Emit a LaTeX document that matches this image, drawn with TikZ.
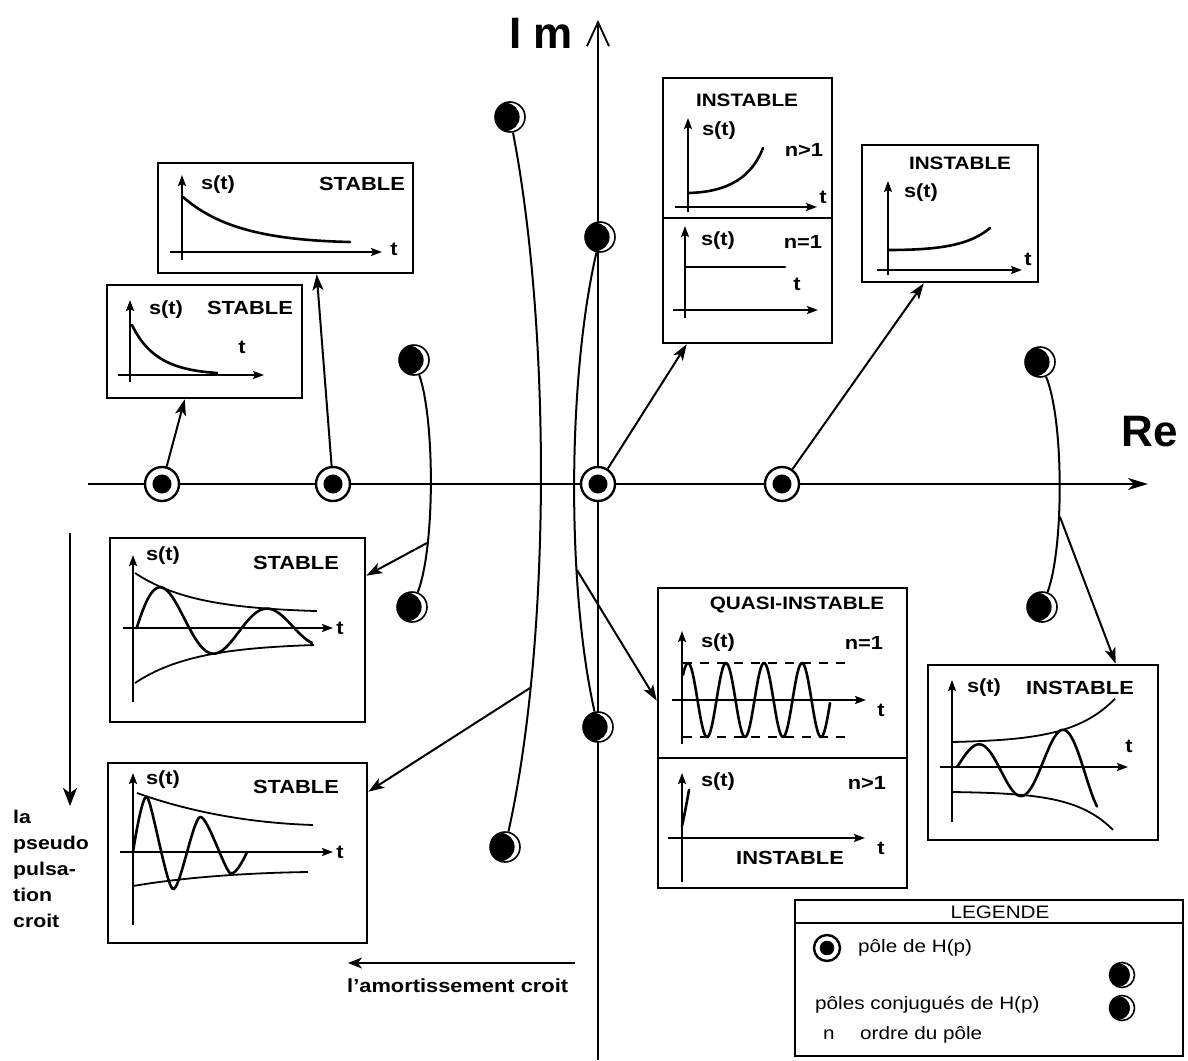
\documentclass[tikz,border=0pt]{standalone}
\usepackage{fontspec}
\setmainfont{Liberation Sans}[FakeStretch=1.15]
\newfontfamily\axisfont{Liberation Sans}
\usetikzlibrary{arrows.meta,calc}
\tikzset{
  plotbox/.style={draw,line width=2.6pt,inner sep=0pt},
  rpole/.style={
    circle,draw,fill=white,line width=2.4pt,inner sep=0pt,minimum size=#1,
    path picture={\fill[black] (path picture bounding box.center) circle (#1*0.28);}
  },
  rpole/.default=34pt,
  cpole/.style={
    circle,draw,fill=white,line width=1.6pt,inner sep=0pt,minimum size=#1,
    path picture={\fill[black] ([xshift=-#1*0.15]path picture bounding box.center) circle (#1*0.47);}
  },
  cpole/.default=30pt,
  locus/.style={line width=2pt},
  signal/.style={-{Stealth[length=16pt,width=11pt,inset=4pt]},line width=2pt},
  plotaxis/.style={-{Stealth[length=11pt,width=8pt,inset=2pt]},line width=2pt},
  trace/.style={line width=2.6pt,line cap=round,line join=round},
  envl/.style={line width=1.8pt},
  lbl/.style={font=\bfseries\fontsize{19}{22}\selectfont,inner sep=0pt},
  hdr/.style={font=\bfseries\fontsize{18}{22}\selectfont,inner sep=0pt},
  leg/.style={font=\fontsize{18}{20}\selectfont,inner sep=0pt,anchor=west},
  axlbl/.style={font=\axisfont\bfseries\fontsize{44}{44}\selectfont,inner sep=0pt}
}

\begin{document}
\begin{tikzpicture}[x=1pt,y=-1pt]
\useasboundingbox (0,0) rectangle (1188,1060);

\coordinate (reW) at (88,484);
\coordinate (reE) at (1148,484);
\coordinate (imS) at (598,1060);
\coordinate (imN) at (598,20);
\draw[line width=2pt,-{Stealth[length=20pt,width=12pt,inset=6pt]}] (reW) -- (reE);
\draw[line width=1.8pt,-{Straight Barb[length=24pt,width=22pt]}] (imS) -- (imN);
\node[axlbl] (imlbl) at (541,33) {I m};
\node[axlbl] (relbl) at (1150,432) {Re};

\node[rpole] (p1) at (162,484) {};
\node[rpole] (p2) at (333,484) {};
\node[rpole] (p3) at (598,484) {};
\node[rpole] (p4) at (782,484) {};
\node[cpole] (c1a) at (510,117) {};
\node[cpole] (c1b) at (505,847) {};
\node[cpole] (c2a) at (600,237) {};
\node[cpole] (c2b) at (598,727) {};
\node[cpole] (c3a) at (414,360) {};
\node[cpole] (c3b) at (412,607) {};
\node[cpole] (c4a) at (1040,362) {};
\node[cpole] (c4b) at (1042,607) {};

\draw[locus] (c1a) .. controls (551,330) and (551,640) .. (c1b);
\draw[locus] (c2a) .. controls (567,380) and (567,589) .. (c2b);
\draw[locus] (c3a) .. controls (435,420) and (435,548) .. (c3b);
\draw[locus] (c4a) .. controls (1064,420) and (1064,548) .. (c4b);
\coordinate (a1) at (530,688);
\coordinate (a2) at (577,570);
\coordinate (a3) at (427,543);
\coordinate (a4) at (1060,517);

\node[plotbox,minimum width=255pt,minimum height=110pt] (stA) at (285.5,218) {};
\node[plotbox,minimum width=195pt,minimum height=113pt] (stB) at (204.5,341.5) {};
\node[plotbox,minimum width=169pt,minimum height=265pt] (stC) at (747.5,210.5) {};
\node[plotbox,minimum width=176pt,minimum height=137pt] (stD) at (950,213.5) {};
\node[plotbox,minimum width=255pt,minimum height=184pt] (stE) at (237.5,630) {};
\node[plotbox,minimum width=259pt,minimum height=180pt] (stF) at (237.5,853) {};
\node[plotbox,minimum width=249pt,minimum height=300pt] (stG) at (782.5,738) {};
\node[plotbox,minimum width=230pt,minimum height=175pt] (stH) at (1043,752.5) {};

\draw[signal] (p1) -- ([xshift=79pt]stB.south west);
\draw[signal] (p2) -- ([xshift=160pt]stA.south west);
\draw[signal] (p3) -- ([xshift=25pt]stC.south west);
\draw[signal] (p4) -- ([xshift=63pt]stD.south west);
\draw[signal] (a3) -- ([yshift=-39pt]stE.north east);
\draw[signal] (a1) -- ([yshift=-30pt]stF.north east);
\draw[signal] (a2) -- ([yshift=-114pt]stG.north west);
\draw[signal] (a4) -- ([xshift=189pt]stH.north west);

% STABLE, slow
\draw[plotaxis] (182,260) -- (182,175);
\draw[plotaxis] (170,252) -- (382,252);
\draw[trace] (183,197) .. controls (215,225) and (260,240) .. (350,242);
\node[lbl] (sA) at (218,185) {s(t)};
\node[lbl] (kA) at (362,184) {STABLE};
\node[lbl] (tA) at (394,249) {t};

% STABLE, fast
\draw[plotaxis] (130,382) -- (130,300);
\draw[plotaxis] (118,375) -- (264,375);
\draw[trace] (132,325) .. controls (148,358) and (172,370) .. (217,373);
\node[lbl] (sB) at (166,310) {s(t)};
\node[lbl] (kB) at (250,308) {STABLE};
\node[lbl] (tB) at (242,347) {t};

% origin: n>1 / n=1
\draw[line width=2pt] (stC.west |- 0,218) -- (stC.east |- 0,218);
\node[hdr] (kC) at (747,100) {INSTABLE};
\draw[plotaxis] (688,212) -- (688,118);
\draw[plotaxis] (675,207) -- (817,207);
\draw[trace] (688,193) .. controls (730,192) and (752,176) .. (763,148);
\node[lbl] (sC) at (719,131) {s(t)};
\node[lbl] (nC) at (804,150) {n>1};
\node[lbl] (tC) at (823,197) {t};
\draw[plotaxis] (685,318) -- (685,226);
\draw[plotaxis] (673,310) -- (818,310);
\draw[trace] (685,267) -- (785,267);
\node[lbl] (sC2) at (718,241) {s(t)};
\node[lbl] (nC2) at (803,242) {n=1};
\node[lbl] (tC2) at (797,284) {t};

% INSTABLE, real
\node[hdr] (kD) at (960,163) {INSTABLE};
\draw[plotaxis] (888,275) -- (888,181);
\draw[plotaxis] (877,270) -- (1022,270);
\draw[trace] (888,250) .. controls (940,250) and (970,245) .. (990,228);
\node[lbl] (sD) at (921,193) {s(t)};
\node[lbl] (tD) at (1028,259) {t};

% STABLE, oscillating
\draw[plotaxis] (133,702) -- (133,555);
\draw[plotaxis] (123,628) -- (333,628);
\draw[envl] plot[domain=135:317,samples=40] (\x,{628-(15+40*exp(-(\x-135)/60))});
\draw[envl] plot[domain=135:314,samples=40] (\x,{628+(15+40*exp(-(\x-135)/60))});
\draw[trace] plot[domain=136.75:312,samples=120] (\x,{628-(15+40*exp(-(\x-135)/60))*sin((\x-136.75)*3.4286)});
\node[lbl] (sE) at (163,556) {s(t)};
\node[lbl] (kE) at (296,563) {STABLE};
\node[lbl] (tE) at (340,628) {t};

% STABLE, faster oscillation
\draw[plotaxis] (133,925) -- (133,773);
\draw[plotaxis] (120,852) -- (333,852);
\draw[envl] (137,793) .. controls (190,812) and (250,823) .. (313,825);
\draw[envl] (133,886) .. controls (180,878) and (240,873) .. (308,872);
\draw[trace] plot[smooth,tension=0.45] coordinates {(133,852) (147,797) (173,889) (200,817) (230,873) (247,852)};
\node[lbl] (sF) at (163,780) {s(t)};
\node[lbl] (kF) at (296,787) {STABLE};
\node[lbl] (tF) at (340,852) {t};

% imaginary axis: n=1 / n>1
\draw[line width=2pt] (stG.west |- 0,758) -- (stG.east |- 0,758);
\node[hdr] (kG) at (797,605) {QUASI-INSTABLE};
\draw[plotaxis] (682,744) -- (682,631);
\draw[plotaxis] (672,700) -- (866,700);
\draw[envl,dash pattern=on 9pt off 8pt] (683,663) -- (848,663);
\draw[envl,dash pattern=on 9pt off 8pt] (683,737) -- (848,737);
\draw[trace] plot[domain=683:830,samples=150] (\x,{700-37*cos((\x-688)*9.4737)});
\node[lbl] (sG) at (718,643) {s(t)};
\node[lbl] (nG) at (864,643) {n=1};
\node[lbl] (tG) at (881,710) {t};
\draw[plotaxis] (682,882) -- (682,773);
\draw[plotaxis] (668,838) -- (865,838);
\draw[trace] (682,826) .. controls (685,812) .. (689,790);
\node[lbl] (sG2) at (718,782) {s(t)};
\node[lbl] (nG2) at (867,783) {n>1};
\node[lbl] (tG2) at (881,848) {t};
\node[lbl] (kG2) at (790,858) {INSTABLE};

% INSTABLE, oscillating
\draw[plotaxis] (952,822) -- (952,680);
\draw[plotaxis] (940,767) -- (1128,767);
\draw[envl] plot[domain=952:1115,samples=40] (\x,{742-(exp((\x-952)/43)-1)});
\draw[envl] plot[domain=952:1113,samples=40] (\x,{792+0.556*(exp((\x-952)/38)-1)});
\draw[trace] plot[domain=957:1097,samples=120] (\x,{767-20*exp((\x-957)/170)*sin((\x-957)*4.2857)});
\node[lbl] (sH) at (984,688) {s(t)};
\node[lbl] (kH) at (1080,688) {INSTABLE};
\node[lbl] (tH) at (1129,746) {t};

% legend
\node[plotbox,minimum width=388pt,minimum height=156pt] (lgd) at (989,978) {};
\draw[line width=2pt] (lgd.west |- 0,923) -- (lgd.east |- 0,923);
\node[leg,anchor=center] (lgdT) at (1000,912) {LEGENDE};
\node[rpole=26pt] (lp) at (827,948) {};
\node[leg] (lt1) at (858,948) {pôle de H(p)};
\node[cpole=25pt] (lc1) at (1122,975) {};
\node[cpole=25pt] (lc2) at (1122,1008) {};
\node[leg] (lt2) at (815,1005) {pôles conjugués de H(p)};
\node[leg] (lt3) at (823,1035) {n};
\node[leg] (lt4) at (860,1035) {ordre du pôle};

% trends
\coordinate (amR) at (575,963);
\coordinate (amL) at (348,963);
\draw[line width=2pt,-{Stealth[length=14pt,width=11pt,inset=4pt]}] (amR) -- (amL);
\node[lbl,anchor=west] (amt) at (347,986) {l'amortissement croit};
\node[anchor=north west,align=left,inner sep=0pt,font=\bfseries\fontsize{18.5}{26}\selectfont] (pulsTxt) at (13,810) {la\\pseudo\\pulsa-\\tion\\croit};
\coordinate (pulsTop) at (70,533);
\draw[line width=2pt,-{Stealth[length=18pt,width=14pt,inset=5pt]}] (pulsTop) -- ([yshift=4pt]pulsTxt.north -| pulsTop);

\end{tikzpicture}
\end{document}
